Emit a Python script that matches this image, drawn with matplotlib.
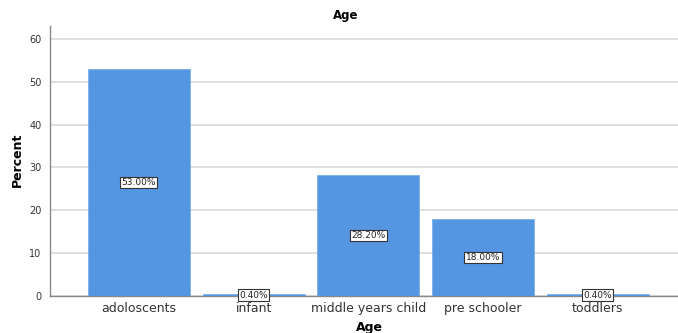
import matplotlib
matplotlib.use("Agg")
import matplotlib.pyplot as plt

categories = ["adoloscents", "infant", "middle years child", "pre schooler", "toddlers"]
percents = [53.0, 0.4, 28.2, 18.0, 0.4]
yticks = [0, 10, 20, 30, 40, 50, 60]

W, H = 678, 333
fig = plt.figure(figsize=(W / 100, H / 100), dpi=100)
ax = fig.add_axes([50 / W, (H - 296) / H, (678 - 50) / W, (296 - 26) / H])

bar_color = "#5596e3"
x = list(range(len(categories)))
ax.bar(x, percents, width=0.89, color=bar_color, edgecolor="#7aaeea", linewidth=0.6, zorder=3)

for xi, v in zip(x, percents):
    ax.text(xi, v / 2, f"{v:.2f}%", ha="center", va="center", fontsize=6.5,
            color="#222222", zorder=4,
            bbox=dict(boxstyle="square,pad=0.15", fc="white", ec="#333333", lw=0.8))

ax.set_xlim(-0.775, 4.70)
ax.set_ylim(0, 63)
ax.set_yticks(yticks)
ax.set_yticklabels([str(t) for t in yticks], fontsize=7, color="#333333")
ax.set_xticks(x)
ax.set_xticklabels(categories, fontsize=9, color="#333333")
ax.tick_params(axis="x", length=0, pad=4)
ax.tick_params(axis="y", length=0, pad=6)

ax.grid(axis="y", color="#d9d9d9", linewidth=1.2, zorder=0)
ax.set_axisbelow(True)
for s in ["top", "right"]:
    ax.spines[s].set_visible(False)
ax.spines["left"].set_color("#888888")
ax.spines["bottom"].set_color("#888888")
ax.spines["left"].set_linewidth(1.0)
ax.spines["bottom"].set_linewidth(1.0)

fig.text(346 / W, 1 - 16 / H, "Age", ha="center", va="center", fontsize=8.5, fontweight="bold")
fig.text(369 / W, 1 - 328 / H, "Age", ha="center", va="center", fontsize=9, fontweight="bold")
fig.text(17 / W, 1 - 160 / H, "Percent", ha="center", va="center", rotation=90,
         fontsize=9, fontweight="bold")

fig.savefig("out.png", dpi=100, facecolor="white")
